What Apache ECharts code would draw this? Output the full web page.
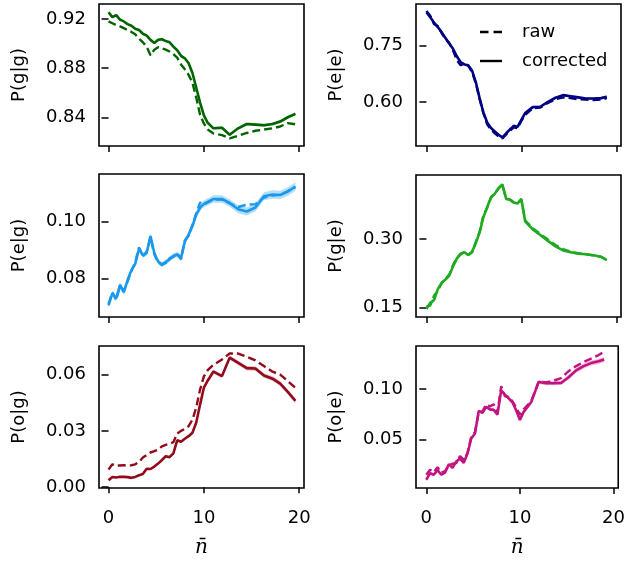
<!DOCTYPE html>
<html>
<head>
<meta charset="utf-8">
<script src="https://cdn.jsdelivr.net/npm/echarts@6.0.0/dist/echarts.min.js"></script>
<style>
  html, body { margin: 0; padding: 0; background: #fff; }
  #chart { width: 628px; height: 561px; }
</style>
</head>
<body>
<div id="chart"></div>
<script>
// Mean photon number grid (left column / right column)
const nbarLeft = [0, 0.4, 0.8, 1.2, 1.6, 2.0, 2.4, 2.8, 3.2, 3.6, 4.0, 4.4, 4.8, 5.2, 5.6, 6.0, 6.4, 6.8, 7.2, 7.6, 8.0, 8.4, 8.8, 9.2, 9.6, 10.0,
  10.4, 11.0, 11.9, 12.7, 13.6, 14.5, 15.4, 16.3, 17.2, 18.0, 18.8, 19.6];
const nbarRight = [0, 0.4, 0.8, 1.2, 1.6, 2.0, 2.4, 2.8, 3.2, 3.6, 4.0, 4.4, 4.8, 5.2, 5.6, 6.0, 6.4, 6.8, 7.2, 7.6, 8.0, 8.4, 8.8, 9.2, 9.6, 10.0,
  10.4, 11.2, 12.0, 12.8, 13.6, 14.4, 15.2, 16.0, 16.8, 17.6, 18.4, 19.0];

// P(g|g)
const rawGG = [0.9180, 0.9165, 0.9150, 0.9140, 0.9125, 0.9110, 0.9095, 0.9075, 0.9040, 0.9010, 0.8975, 0.8905, 0.8950, 0.8970, 0.8960, 0.8950, 0.8935, 0.8915, 0.8885, 0.8830, 0.8790, 0.8745, 0.8680, 0.8560, 0.8420, 0.8350,
  0.8300, 0.8268, 0.8255, 0.8228, 0.8250, 0.8272, 0.8290, 0.8300, 0.8310, 0.8325, 0.8352, 0.8343];
const corGG = [0.9255, 0.9215, 0.9232, 0.9195, 0.9180, 0.9158, 0.9145, 0.9120, 0.9110, 0.9080, 0.9065, 0.9030, 0.9005, 0.9030, 0.9035, 0.9020, 0.9010, 0.8975, 0.8945, 0.8900, 0.8880, 0.8840, 0.8760, 0.8640, 0.8520, 0.8415,
  0.8355, 0.8310, 0.8315, 0.8258, 0.8310, 0.8345, 0.8340, 0.8335, 0.8345, 0.8365, 0.8400, 0.8428];
const errGG = [0.0007, 0.0007, 0.0007, 0.0007, 0.0007, 0.0007, 0.0007, 0.0007, 0.0007, 0.0007, 0.0007, 0.0007, 0.0007, 0.0007, 0.0007, 0.0007, 0.0007, 0.0007, 0.0007, 0.0007, 0.0008, 0.0008, 0.0008, 0.0008, 0.0009, 0.0009,
  0.0010, 0.0010, 0.0011, 0.0011, 0.0012, 0.0012, 0.0012, 0.0012, 0.0013, 0.0013, 0.0013, 0.0013];

// P(e|e)
const rawEE = [0.843, 0.830, 0.808, 0.803, 0.784, 0.768, 0.758, 0.738, 0.712, 0.698, 0.702, 0.697, 0.680, 0.650, 0.608, 0.570, 0.540, 0.526, 0.516, 0.508, 0.502, 0.513, 0.523, 0.532, 0.530, 0.549,
  0.565, 0.583, 0.585, 0.597, 0.607, 0.612, 0.610, 0.607, 0.606, 0.605, 0.606, 0.610];
const corEE = [0.840, 0.826, 0.812, 0.800, 0.786, 0.771, 0.756, 0.742, 0.722, 0.706, 0.700, 0.698, 0.684, 0.653, 0.610, 0.572, 0.545, 0.530, 0.521, 0.512, 0.505, 0.516, 0.526, 0.536, 0.533, 0.552,
  0.570, 0.586, 0.587, 0.600, 0.611, 0.618, 0.615, 0.612, 0.609, 0.609, 0.610, 0.614];
const errEE = [0.002, 0.002, 0.002, 0.002, 0.002, 0.002, 0.002, 0.002, 0.002, 0.002, 0.002, 0.002, 0.002, 0.002, 0.002, 0.002, 0.002, 0.002, 0.002, 0.002, 0.002, 0.002, 0.002, 0.002, 0.002, 0.002,
  0.003, 0.003, 0.003, 0.003, 0.003, 0.003, 0.003, 0.003, 0.003, 0.003, 0.003, 0.003];

// P(e|g)
const rawEG = [0.0712, 0.0752, 0.0725, 0.0772, 0.0758, 0.0790, 0.0826, 0.0858, 0.0910, 0.0878, 0.0895, 0.0945, 0.0885, 0.0856, 0.0852, 0.0855, 0.0872, 0.0876, 0.0890, 0.0868, 0.0935, 0.0950, 0.0990, 0.1030, 0.1068, 0.1060,
  0.1068, 0.1078, 0.1078, 0.1065, 0.1052, 0.1060, 0.1062, 0.1085, 0.1092, 0.1095, 0.1108, 0.1122];
const corEG = [0.0706, 0.0748, 0.0730, 0.0778, 0.0752, 0.0795, 0.0830, 0.0852, 0.0905, 0.0882, 0.0890, 0.0950, 0.0890, 0.0860, 0.0848, 0.0858, 0.0868, 0.0880, 0.0885, 0.0872, 0.0930, 0.0955, 0.0985, 0.1025, 0.1050, 0.1063,
  0.1070, 0.1080, 0.1080, 0.1066, 0.1044, 0.1036, 0.1050, 0.1090, 0.1096, 0.1094, 0.1106, 0.1124];
const errEG = [0.0009, 0.0009, 0.0009, 0.0009, 0.0009, 0.0009, 0.0009, 0.0009, 0.0009, 0.0009, 0.0009, 0.0009, 0.0009, 0.0009, 0.0009, 0.0009, 0.0009, 0.0009, 0.0010, 0.0010, 0.0010, 0.0010, 0.0011, 0.0011, 0.0012, 0.0012,
  0.0013, 0.0013, 0.0013, 0.0013, 0.0014, 0.0014, 0.0014, 0.0014, 0.0015, 0.0015, 0.0015, 0.0015];

// P(g|e)
const rawGE = [0.152, 0.154, 0.176, 0.186, 0.203, 0.213, 0.222, 0.243, 0.259, 0.266, 0.272, 0.266, 0.270, 0.294, 0.316, 0.352, 0.368, 0.390, 0.400, 0.411, 0.418, 0.389, 0.387, 0.381, 0.379, 0.386,
  0.341, 0.324, 0.311, 0.299, 0.287, 0.278, 0.272, 0.269, 0.267, 0.264, 0.261, 0.254];
const corGE = [0.147, 0.160, 0.166, 0.190, 0.204, 0.211, 0.220, 0.240, 0.257, 0.268, 0.271, 0.265, 0.272, 0.291, 0.314, 0.348, 0.370, 0.392, 0.399, 0.412, 0.420, 0.388, 0.386, 0.380, 0.378, 0.388,
  0.339, 0.321, 0.309, 0.296, 0.284, 0.275, 0.271, 0.268, 0.2665, 0.2645, 0.261, 0.254];
const errGE = [0.002, 0.002, 0.002, 0.002, 0.002, 0.002, 0.002, 0.002, 0.002, 0.002, 0.002, 0.002, 0.002, 0.002, 0.002, 0.002, 0.002, 0.002, 0.002, 0.002, 0.002, 0.002, 0.002, 0.002, 0.002, 0.002,
  0.002, 0.002, 0.002, 0.002, 0.002, 0.002, 0.002, 0.002, 0.002, 0.002, 0.002, 0.002];

// P(o|g)
const rawOG = [0.0095, 0.0122, 0.0115, 0.0116, 0.0117, 0.0116, 0.0117, 0.0122, 0.0135, 0.0158, 0.0172, 0.0185, 0.0192, 0.0200, 0.0218, 0.0226, 0.0232, 0.0240, 0.0285, 0.0300, 0.0311, 0.0325, 0.0360, 0.0425, 0.0520, 0.0590,
  0.0623, 0.0652, 0.0680, 0.0712, 0.0712, 0.0695, 0.0675, 0.0645, 0.0615, 0.0600, 0.0565, 0.0530];
const corOG = [0.0037, 0.0055, 0.0052, 0.0056, 0.0055, 0.0054, 0.0050, 0.0055, 0.0064, 0.0070, 0.0098, 0.0097, 0.0110, 0.0126, 0.0145, 0.0165, 0.0160, 0.0180, 0.0250, 0.0242, 0.0258, 0.0272, 0.0290, 0.0345, 0.0440, 0.0530,
  0.0567, 0.0616, 0.0592, 0.0690, 0.0662, 0.0634, 0.0632, 0.0595, 0.0578, 0.0552, 0.0508, 0.0460];
const errOG = [0.0004, 0.0004, 0.0004, 0.0004, 0.0004, 0.0004, 0.0004, 0.0004, 0.0004, 0.0004, 0.0005, 0.0005, 0.0005, 0.0005, 0.0005, 0.0005, 0.0006, 0.0006, 0.0006, 0.0006, 0.0007, 0.0007, 0.0007, 0.0008, 0.0008, 0.0009,
  0.0009, 0.0010, 0.0010, 0.0011, 0.0011, 0.0012, 0.0012, 0.0012, 0.0013, 0.0013, 0.0013, 0.0013];

// P(o|e)
const rawOE = [0.0150, 0.0200, 0.0175, 0.0225, 0.0170, 0.0185, 0.0240, 0.0260, 0.0265, 0.0335, 0.0300, 0.0365, 0.0530, 0.0575, 0.0770, 0.0780, 0.0850, 0.0830, 0.0850, 0.0770, 0.1030, 0.0930, 0.0925, 0.0880, 0.0820, 0.0745,
  0.0800, 0.0880, 0.1075, 0.1068, 0.1085, 0.1110, 0.1180, 0.1230, 0.1270, 0.1305, 0.1340, 0.1372];
const corOE = [0.0100, 0.0165, 0.0150, 0.0195, 0.0150, 0.0170, 0.0255, 0.0218, 0.0282, 0.0310, 0.0268, 0.0360, 0.0510, 0.0560, 0.0785, 0.0765, 0.0825, 0.0800, 0.0795, 0.0748, 0.0990, 0.0945, 0.0910, 0.0870, 0.0790, 0.0695,
  0.0775, 0.0870, 0.1072, 0.1060, 0.1060, 0.1063, 0.1120, 0.1188, 0.1230, 0.1260, 0.1278, 0.1295];
const errOE = [0.0012, 0.0012, 0.0012, 0.0012, 0.0012, 0.0012, 0.0012, 0.0012, 0.0012, 0.0012, 0.0012, 0.0012, 0.0013, 0.0013, 0.0013, 0.0013, 0.0014, 0.0014, 0.0014, 0.0014, 0.0015, 0.0015, 0.0015, 0.0016, 0.0016, 0.0016,
  0.0017, 0.0018, 0.0019, 0.0020, 0.0021, 0.0022, 0.0023, 0.0024, 0.0025, 0.0025, 0.0026, 0.0026];

// Tick labels
const nbarTicks = [0, 10, 20];
const ticksGG = [0.84, 0.88, 0.92];
const ticksEE = [0.60, 0.75];
const ticksEG = [0.08, 0.10];
const ticksGE = [0.15, 0.30];
const ticksOG = [0.00, 0.03, 0.06];
const ticksOE = [0.05, 0.10];

const FONT = 'DejaVu Sans';
const FS = 18;

const panels = [
  { label: 'P(g|g)', x: nbarLeft,  raw: rawGG, cor: corGG, err: errGG, ticks: ticksGG, yMin: 0.8166, yMax: 0.9322, color: '#006400', band: 'rgba(0,100,0,0.30)',    box: [99, 4, 205, 142],   xMin: -1.0 },
  { label: 'P(e|e)', x: nbarRight, raw: rawEE, cor: corEE, err: errEE, ticks: ticksEE, yMin: 0.482,  yMax: 0.8617, color: '#000080', band: 'rgba(0,0,128,0.30)',    box: [416, 4, 205, 142],  xMin: -1.1 },
  { label: 'P(e|g)', x: nbarLeft,  raw: rawEG, cor: corEG, err: errEG, ticks: ticksEG, yMin: 0.0665, yMax: 0.1168, color: '#1a98ec', band: 'rgba(26,152,236,0.32)', box: [99, 174, 205, 143], xMin: -1.0 },
  { label: 'P(g|e)', x: nbarRight, raw: rawGE, cor: corGE, err: errGE, ticks: ticksGE, yMin: 0.129,  yMax: 0.4405, color: '#1faa1f', band: 'rgba(31,170,31,0.30)',  box: [416, 175, 205, 142], xMin: -1.1 },
  { label: 'P(o|g)', x: nbarLeft,  raw: rawOG, cor: corOG, err: errOG, ticks: ticksOG, yMin: -0.0004, yMax: 0.0752, color: '#930a1c', band: 'rgba(147,10,28,0.28)', box: [99, 346, 205, 142], xMin: -1.0 },
  { label: 'P(o|e)', x: nbarRight, raw: rawOE, cor: corOE, err: errOE, ticks: ticksOE, yMin: 0.0018, yMax: 0.143,  color: '#c2137f', band: 'rgba(194,19,127,0.28)', box: [416, 346, 205, 142], xMin: -1.1 }
];

const grids = [], xAxes = [], yAxes = [], series = [];
const pairs = (xs, ys) => xs.map((v, i) => [v, ys[i]]);

panels.forEach((p, i) => {
  const bottomRow = i >= 4;
  grids.push({
    left: p.box[0], top: p.box[1], width: p.box[2], height: p.box[3],
    show: true, borderColor: '#000', borderWidth: 1.6, backgroundColor: '#fff'
  });
  xAxes.push({
    type: 'value', gridIndex: i, min: p.xMin, max: 20.5,
    axisLine: { show: false },
    splitLine: { show: false },
    axisTick: { show: true, length: 6, customValues: nbarTicks, lineStyle: { color: '#000', width: 1.5 } },
    axisLabel: { show: bottomRow, customValues: nbarTicks, margin: 21, fontFamily: FONT, fontSize: FS, color: '#000' },
    name: bottomRow ? 'n\u0304' : '',
    nameLocation: 'middle', nameGap: 50,
    nameTextStyle: { fontFamily: 'DejaVu Serif', fontStyle: 'italic', fontSize: 20, color: '#000' }
  });
  yAxes.push({
    type: 'value', gridIndex: i, min: p.yMin, max: p.yMax,
    axisLine: { show: false },
    splitLine: { show: false },
    axisTick: { show: true, length: 7, customValues: p.ticks, lineStyle: { color: '#000', width: 1.5 } },
    axisLabel: { customValues: p.ticks, margin: 13, fontFamily: FONT, fontSize: FS, color: '#000',
      formatter: v => v.toFixed(2) },
    name: p.label, nameLocation: 'middle', nameGap: 71, nameRotate: 90,
    nameTextStyle: { fontFamily: FONT, fontSize: FS, color: '#000' }
  });

  // raw estimate (dashed)
  series.push({
    type: 'line', xAxisIndex: i, yAxisIndex: i, data: pairs(p.x, p.raw),
    symbol: 'none', z: 3, silent: true,
    lineStyle: { color: p.color, width: 2.4, type: [8, 4] }
  });
  // uncertainty band around the corrected estimate, drawn as one polygon
  series.push({
    type: 'custom', xAxisIndex: i, yAxisIndex: i, z: 2, silent: true,
    data: p.x.map((v, k) => [v, p.cor[k] - p.err[k], p.cor[k] + p.err[k]]),
    encode: { x: 0, y: [1, 2] },
    renderItem: (params, api) => {
      if (params.dataIndex !== 0) return null;
      const n = p.x.length;
      const upper = [], lower = [];
      for (let k = 0; k < n; k++) {
        upper.push(api.coord([p.x[k], p.cor[k] + p.err[k]]));
        lower.push(api.coord([p.x[k], p.cor[k] - p.err[k]]));
      }
      return {
        type: 'polygon',
        shape: { points: upper.concat(lower.reverse()) },
        style: { fill: p.band, stroke: null }
      };
    }
  });
  // corrected estimate (solid)
  series.push({
    type: 'line', xAxisIndex: i, yAxisIndex: i, data: pairs(p.x, p.cor),
    symbol: 'none', z: 4, silent: true,
    lineStyle: { color: p.color, width: 2.6 }
  });
});

// legend entries
series.push({ name: 'raw', type: 'line', xAxisIndex: 1, yAxisIndex: 1, data: [], symbol: 'none',
  itemStyle: { color: '#000' }, lineStyle: { color: '#000', width: 2.4, type: [8, 4] } });
series.push({ name: 'corrected', type: 'line', xAxisIndex: 1, yAxisIndex: 1, data: [], symbol: 'none',
  itemStyle: { color: '#000' }, lineStyle: { color: '#000', width: 2.4 } });

const chart = echarts.init(document.getElementById('chart'), null, { renderer: 'canvas' });
chart.setOption({
  animation: false,
  backgroundColor: '#fff',
  grid: grids,
  xAxis: xAxes,
  yAxis: yAxes,
  legend: {
    data: [
      { name: 'raw', icon: 'path://M0,0h8.5v2.4h-8.5z M13.5,0h8.5v2.4h-8.5z' },
      { name: 'corrected', icon: 'path://M0,0h22v2.4h-22z' }
    ],
    orient: 'vertical', left: 475, top: 18,
    itemWidth: 22, itemHeight: 2.4, itemGap: 11,
    itemStyle: { color: '#000', borderWidth: 0 },
    textStyle: { fontFamily: FONT, fontSize: FS, color: '#000', padding: [0, 0, 0, 15], lineHeight: 17 },
    selectedMode: false
  },
  series: series
});
</script>
</body>
</html>
